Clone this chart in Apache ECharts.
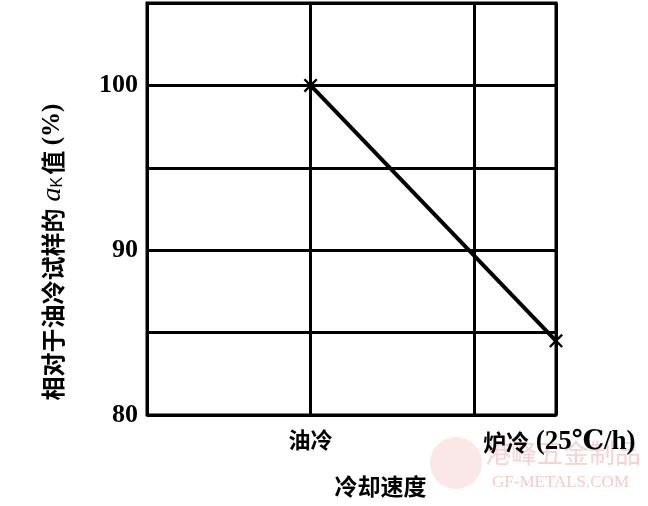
<!DOCTYPE html>
<html><head><meta charset="utf-8">
<script src="https://cdn.jsdelivr.net/npm/echarts@6/dist/echarts.min.js"></script>
<style>html,body{margin:0;padding:0;background:#fff}#c{width:648px;height:506px}</style>
</head><body><div id="c"></div>
<script>
const categoryLabels = ['油冷', '炉冷'];
const categoryNotes = ['', '(25℃/h)'];
const categoryPositions = [1, 2];
const seriesX = [1, 2.5];
const seriesY = [100, 84.5];
const yTickLabels = [80, 90, 100];
const yAxisTitle = '相对于油冷试样的';
const xAxisTitle = '冷却速度';

const chart = echarts.init(document.getElementById('c'));
const cjk = '"Noto Sans CJK SC", sans-serif';
const serif = '"Liberation Serif", "DejaVu Serif", serif';
const cross = 'path://M0,1.2L1.2,0L5,3.8L8.8,0L10,1.2L6.2,5L10,8.8L8.8,10L5,6.2L1.2,10L0,8.8L3.8,5Z';

chart.setOption({
  animation: false,
  backgroundColor: '#fff',
  grid: { left: 147, right: 92, top: 3, bottom: 91, show: true, borderColor: '#000', borderWidth: 3, containLabel: false },
  xAxis: {
    type: 'value', min: 0, max: 2.5, interval: 1,
    axisLine: { show: false },
    axisTick: { show: false },
    splitLine: { show: true, lineStyle: { color: '#000', width: 3 } },
    axisLabel: {
      margin: 14,
      formatter: v => {
        const i = categoryPositions.indexOf(v);
        if (i < 0) return '';
        return categoryNotes[i] ? '{b|' + categoryLabels[i] + '}{c| ' + categoryNotes[i] + '}' : '{a|' + categoryLabels[i] + '}';
      },
      rich: {
        a: { fontFamily: cjk, fontWeight: 'bold', fontSize: 22, color: '#000' },
        b: { fontFamily: cjk, fontWeight: 'bold', fontSize: 23, color: '#000', padding: [0, 0, 0, 170] },
        c: { fontFamily: serif, fontWeight: 'bold', fontSize: 27, color: '#000' }
      }
    },
    name: xAxisTitle, nameLocation: 'middle', nameGap: 60,
    nameTextStyle: { fontFamily: cjk, fontWeight: 'bold', fontSize: 23, color: '#000', padding: [0, 0, 0, 58] }
  },
  yAxis: {
    type: 'value', min: 80, max: 105, interval: 5,
    axisLine: { show: false },
    axisTick: { show: false },
    splitLine: { show: true, lineStyle: { color: '#000', width: 3 } },
    axisLabel: {
      margin: 9,
      fontFamily: serif, fontWeight: 'bold', fontSize: 26, color: '#000',
      formatter: v => yTickLabels.indexOf(v) >= 0 ? String(v) : ''
    },
    name: '{t|' + yAxisTitle + '}{i| a}{s|K}{t|值 }{p|(%)}',
    nameLocation: 'middle', nameGap: 80, nameRotate: 90,
    nameTextStyle: {
      padding: [0, 86, 0, 0],
      rich: {
        t: { fontFamily: cjk, fontWeight: 'bold', fontSize: 24, color: '#000' },
        i: { fontFamily: serif, fontStyle: 'italic', fontSize: 28, color: '#000' },
        s: { fontFamily: '"Liberation Sans", sans-serif', fontSize: 16, color: '#000', padding: [10, 2, 0, 0] },
        p: { fontFamily: serif, fontWeight: 'bold', fontSize: 25, color: '#000' }
      }
    }
  },
  series: [{
    type: 'line',
    data: seriesX.map((x, i) => [x, seriesY[i]]),
    symbol: cross, symbolSize: 14,
    lineStyle: { color: '#000', width: 4 },
    itemStyle: { color: '#000' },
    clip: false
  }],
  graphic: [
    { type: 'circle', shape: { cx: 456, cy: 463, r: 26 }, style: { fill: '#f8dede', opacity: 0.7 }, z: -1 },
    { type: 'text', left: 485, top: 440, style: { text: '港峰五金制品', fontFamily: cjk, fontSize: 26, fill: '#f7d3d3' }, z: -1 },
    { type: 'text', left: 492, top: 474, style: { text: 'GF-METALS.COM', fontFamily: serif, fontSize: 17, fill: '#f3cccc' }, z: -1 }
  ]
});
</script></body></html>
